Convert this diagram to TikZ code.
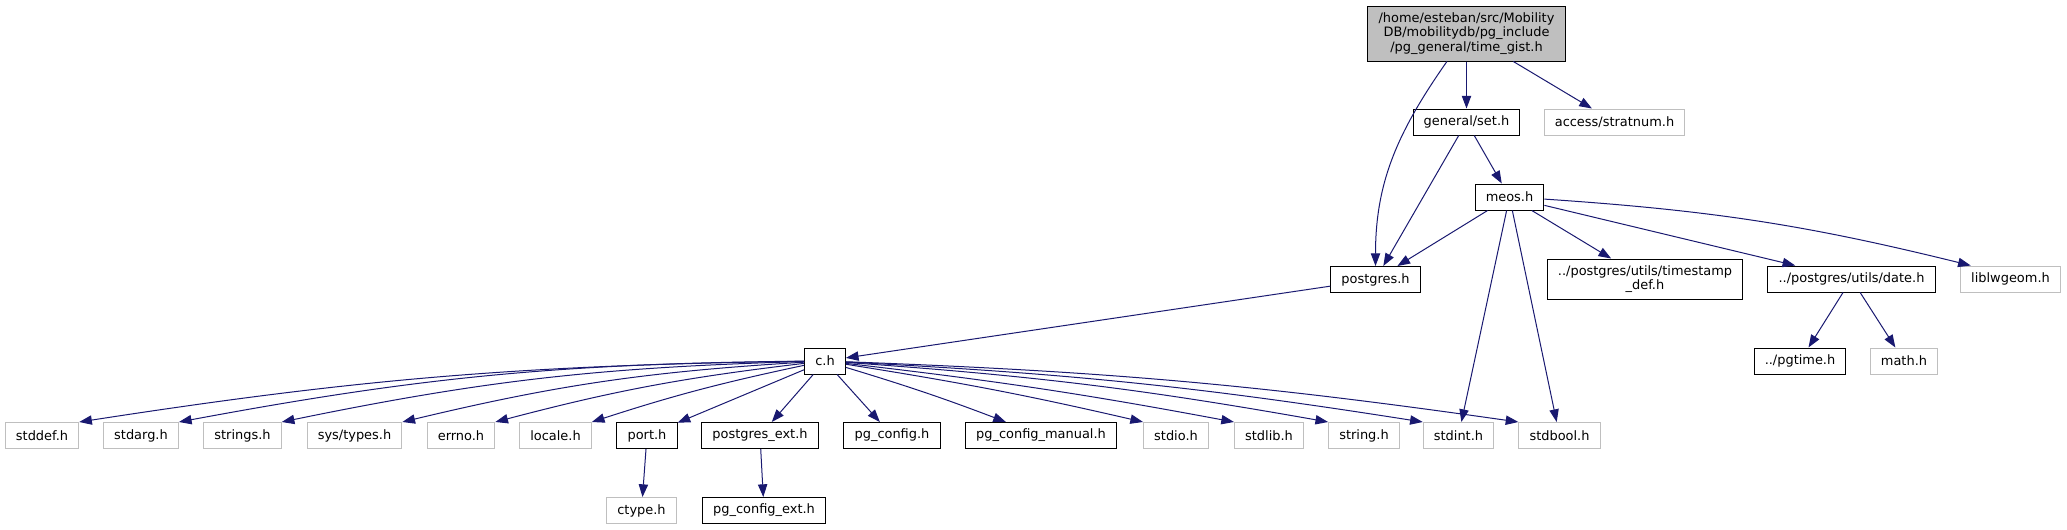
\documentclass[tikz,border=0pt]{standalone}
\usepackage{fontspec}
\setmainfont{DejaVu Sans}
\usepackage{xcolor}
\usepackage{tikz}
\usetikzlibrary{shapes, arrows.meta}

\definecolor{edgeblue}{HTML}{191970}
\definecolor{grey75}{HTML}{BFBFBF}
\newcommand\docfont{\fontsize{9.7}{10.8}\selectfont}

\begin{document}
\begin{tikzpicture}[
        x=0.75pt, y=0.75pt,
        hdr/.style={rectangle, draw=black, fill=white, line width=0.75pt, font=\docfont, minimum height=19.5pt, inner xsep=8pt, inner ysep=0pt},
        sys/.style={hdr, draw=grey75},
        rootfile/.style={hdr, fill=grey75, align=center, minimum height=41.25pt},
        arrow/.style={-{Triangle[length=9.5pt, width=7pt]}, draw=edgeblue, line width=0.75pt}
    ]
    \useasboundingbox (0,0) rectangle (2067,-529);

    % --- Nodes (top part) ---
    \node[rootfile] (timegist) at (1466.5,-33.5) {/home/esteban/src/Mobility\\DB/mobilitydb/pg\_include\\/pg\_general/time\_gist.h};
    \node[hdr] (set) at (1466.5,-122) {general/set.h};
    \node[sys] (stratnum) at (1614.5,-122) {access/stratnum.h};
    \node[hdr] (meos) at (1509.5,-197) {meos.h};
    \node[hdr] (postgres) at (1375.5,-279.5) {postgres.h};
    \node[hdr, align=center, minimum height=30pt] (tsdef) at (1645,-279) {../postgres/utils/timestamp\\\_def.h};
    \node[hdr] (date) at (1851.5,-279) {../postgres/utils/date.h};
    \node[sys] (lwgeom) at (2010.5,-279) {liblwgeom.h};
    \node[hdr] (pgtime) at (1800,-361) {../pgtime.h};
    \node[sys] (math) at (1904,-361) {math.h};
    \node[hdr] (ch) at (825,-361) {c.h};

    % --- Nodes (included by c.h) ---
    \node[sys] (stddef) at (42,-435.5) {stddef.h};
    \node[sys] (stdarg) at (141,-435.5) {stdarg.h};
    \node[sys] (strings) at (242.5,-435.5) {strings.h};
    \node[sys] (systypes) at (354.5,-435.5) {sys/types.h};
    \node[sys] (errnoh) at (461,-435.5) {errno.h};
    \node[sys] (locale) at (555.5,-435.5) {locale.h};
    \node[hdr] (port) at (647,-435.5) {port.h};
    \node[hdr] (pgext) at (760,-435.5) {postgres\_ext.h};
    \node[hdr] (pgconfig) at (892,-435.5) {pg\_config.h};
    \node[hdr] (pgmanual) at (1041,-435.5) {pg\_config\_manual.h};
    \node[sys] (stdio) at (1176,-435.5) {stdio.h};
    \node[sys] (stdlib) at (1269,-435.5) {stdlib.h};
    \node[sys] (stringh) at (1364,-435.5) {string.h};
    \node[sys] (stdint) at (1458.5,-435.5) {stdint.h};
    \node[sys] (stdbool) at (1559.5,-435.5) {stdbool.h};
    \node[sys] (ctype) at (641.5,-510.5) {ctype.h};
    \node[hdr] (pgconfext) at (764,-510.5) {pg\_config\_ext.h};

    % --- Edges from the top file ---
    \draw[arrow] (timegist) to[out=-125, in=90] (postgres);
    \draw[arrow] (timegist) -- (set);
    \draw[arrow] (timegist) -- (stratnum);
    \draw[arrow] (set) -- (postgres);
    \draw[arrow] (set) -- (meos);

    % --- Edges from meos.h ---
    \draw[arrow] (meos) -- (postgres);
    \draw[arrow] (meos) -- (tsdef);
    \draw[arrow] (meos) -- (date);
    \draw[arrow] (meos) to[bend left=5] ([xshift=8pt]lwgeom.north west);
    \draw[arrow] (meos) -- (stdint);
    \draw[arrow] (meos) -- (stdbool);
    \draw[arrow] (date) -- (pgtime);
    \draw[arrow] (date) -- (math);
    \draw[arrow] (postgres) -- (ch);

    % --- Edges from c.h (left) ---
    \draw[arrow] (ch) to[bend right=4] (stddef.north east);
    \draw[arrow] (ch) to[bend right=5] (stdarg.north east);
    \draw[arrow] (ch) to[bend right=5] (strings.north east);
    \draw[arrow] (ch) to[bend right=5] (systypes.north east);
    \draw[arrow] (ch) to[bend right=4] (errnoh.north east);
    \draw[arrow] (ch) to[bend right=3] (locale.north east);
    \draw[arrow] (ch) -- (port);
    \draw[arrow] (ch) -- (pgext);
    \draw[arrow] (ch) -- (pgconfig);

    % --- Edges from c.h (right) ---
    \draw[arrow] (ch) to[bend left=2] (pgmanual);
    \draw[arrow] (ch) to[bend left=2] (stdio.north west);
    \draw[arrow] (ch) to[bend left=2] (stdlib.north west);
    \draw[arrow] (ch) to[bend left=3] (stringh.north west);
    \draw[arrow] (ch) to[bend left=3] (stdint.north west);
    \draw[arrow] (ch) to[bend left=3] (stdbool.north west);

    % --- Second level ---
    \draw[arrow] (port) -- (ctype);
    \draw[arrow] (pgext) -- (pgconfext);

\end{tikzpicture}
\end{document}
